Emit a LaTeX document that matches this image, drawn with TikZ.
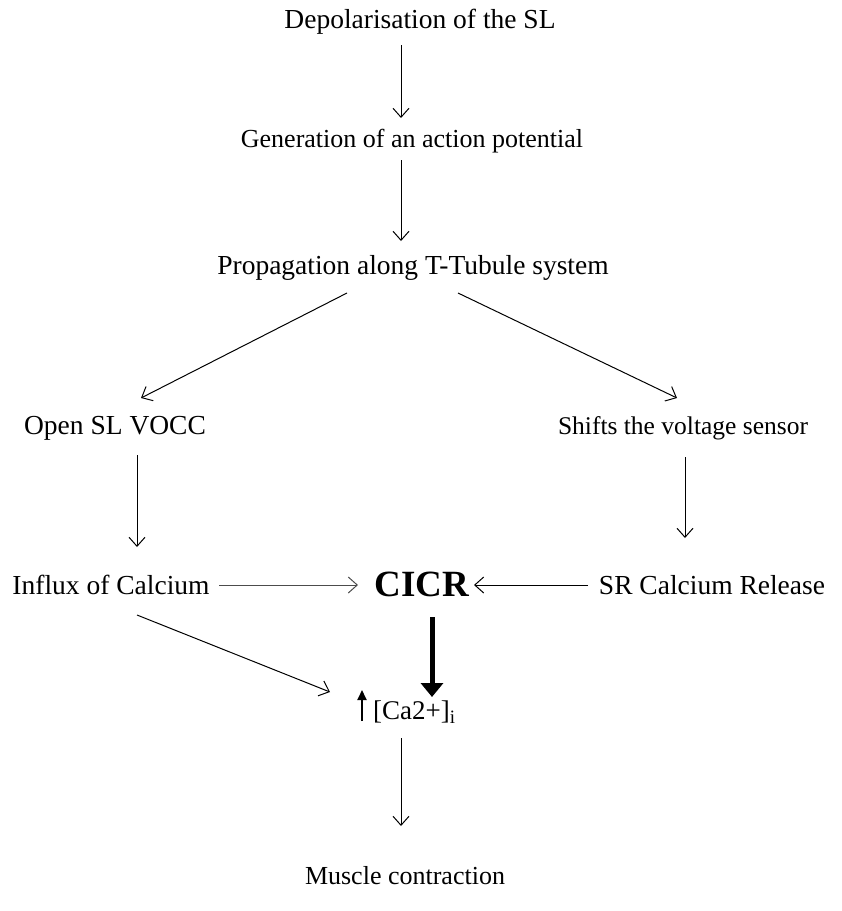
\documentclass[tikz,border=0pt]{standalone}
\usepackage{fontspec}
\setmainfont{Liberation Serif}
\usetikzlibrary{arrows.meta}
\begin{document}
\begin{tikzpicture}[x=1pt,y=-1pt,
  lbl/.style={inner sep=0pt,font=\fontsize{26}{30}\selectfont},
  lblw/.style={inner sep=0pt,font=\fontsize{27.5}{32}\selectfont},
  big/.style={inner sep=0pt,font=\fontsize{37}{42}\selectfont\bfseries},
  conn/.style={line width=1pt,-{Straight Barb[length=9pt,width=16pt,line width=1pt]}},
  thick conn/.style={line width=5pt,-{Triangle[length=14pt,width=22pt]}}]
\useasboundingbox (0,0) rectangle (842,911);
\node[lblw] (dep) at (420,22) {Depolarisation of the SL};
\node[lbl] (gen) at (412,141) {Generation of an action potential};
\node[lblw] (prop) at (413,268) {Propagation along T-Tubule system};
\node[lblw] (open) at (115,428) {Open SL VOCC};
\node[lbl,font=\fontsize{25.5}{30}\selectfont] (shift) at (683,428) {Shifts the voltage sensor};
\node[lblw] (influx) at (111,585) {Influx of Calcium};
\node[big] (cicr) at (422,584) {CICR};
\node[lblw] (sr) at (712,585) {SR Calcium Release};
\node[lbl,anchor=west,font=\fontsize{27}{32}\selectfont] (ca) at (373,712) {[Ca2+]\textsubscript{i}};
\node[lbl] (mus) at (405,876) {Muscle contraction};
\coordinate (a1s) at (401,45); \coordinate (a1e) at (401,118);
\coordinate (a2s) at (401,160); \coordinate (a2e) at (401,241);
\coordinate (dls) at (347,293); \coordinate (dle) at (141,398);
\coordinate (drs) at (458,293); \coordinate (dre) at (677,398);
\coordinate (vls) at (137,455); \coordinate (vle) at (137,547);
\coordinate (vrs) at (685,457); \coordinate (vre) at (685,538);
\coordinate (hls) at (219,585); \coordinate (hle) at (358,585);
\coordinate (hrs) at (588,585); \coordinate (hre) at (474,585);
\coordinate (tks) at (432,617); \coordinate (tke) at (432,697);
\coordinate (dgs) at (137,615); \coordinate (dge) at (330,692);
\coordinate (ups) at (362,721); \coordinate (upe) at (362,690);
\coordinate (a3s) at (401,738); \coordinate (a3e) at (401,826);
\draw[conn] (a1s) -- (a1e);
\draw[conn] (a2s) -- (a2e);
\draw[conn] (dls) -- (dle);
\draw[conn] (drs) -- (dre);
\draw[conn] (vls) -- (vle);
\draw[conn] (vrs) -- (vre);
\draw[conn,draw=black!70] (hls) -- (hle);
\draw[conn] (hrs) -- (hre);
\draw[thick conn] (tks) -- (tke);
\draw[conn] (dgs) -- (dge);
\draw[line width=2pt,-{Triangle[length=10pt,width=9pt]}] (ups) -- (upe);
\draw[conn] (a3s) -- (a3e);
\end{tikzpicture}
\end{document}
